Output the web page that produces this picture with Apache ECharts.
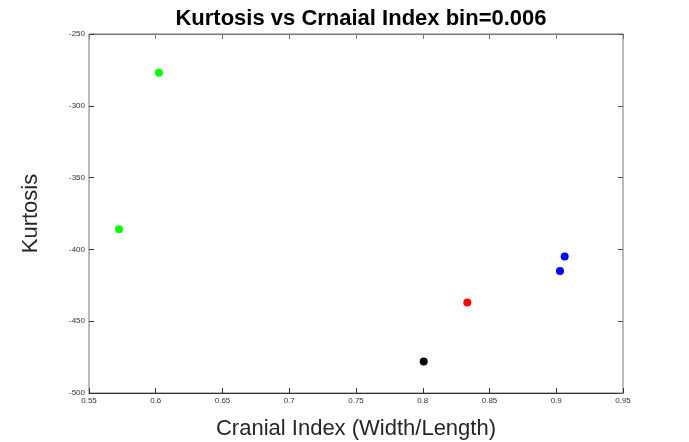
<!DOCTYPE html>
<html><head><meta charset="utf-8">
<script src="https://cdn.jsdelivr.net/npm/echarts@6/dist/echarts.min.js"></script>
<style>html,body{margin:0;padding:0;background:#fff}#c{width:689px;height:442px}</style>
</head><body><div id="c"></div>
<script>
const xTicks = [0.55,0.6,0.65,0.7,0.75,0.8,0.85,0.9,0.95];
const yTicks = [-500,-450,-400,-350,-300,-250];
const greenPts = [[0.6024,-277],[0.5725,-386]];
const redPts = [[0.8334,-437]];
const blackPts = [[0.8007,-478]];
const bluePts = [[0.9063,-405],[0.9028,-415]];

const chart = echarts.init(document.getElementById('c'));
const lblFont = {fontFamily:'Liberation Sans, Arial', fontSize:8, color:'#333'};
function sc(data,color){return {type:'scatter',data:data,symbol:'circle',symbolSize:8,itemStyle:{color:color,opacity:1},xAxisIndex:0,yAxisIndex:0};}
chart.setOption({
  animation:false,
  title:{text:'Kurtosis vs Crnaial Index bin=0.006',left:356,top:3,textAlign:'center',
    textStyle:{fontFamily:'Liberation Sans, Arial',fontSize:22,fontWeight:'bold',color:'#000'}},
  grid:{left:89,right:66,top:34,bottom:49,outerBoundsMode:'none',containLabel:false,show:true,borderColor:'#777',borderWidth:1,backgroundColor:'#fff'},
  xAxis:[{type:'value',min:0.55,max:0.95,interval:0.05,
    name:'Cranial Index (Width/Length)',nameLocation:'middle',nameGap:25,
    nameTextStyle:{fontFamily:'Liberation Sans, Arial',fontSize:22,color:'#262626'},
    axisLine:{show:true,onZero:false,lineStyle:{color:'#333'}},
    axisTick:{inside:true,length:5,lineStyle:{color:'#333'}},
    axisLabel:Object.assign({margin:4,formatter:v=>String(+v.toFixed(2))},lblFont),
    splitLine:{show:false}},
   {type:'value',position:'top',min:0.55,max:0.95,interval:0.05,
    axisLine:{show:true,lineStyle:{color:'#777'}},axisTick:{inside:true,length:5,lineStyle:{color:'#777'}},
    axisLabel:{show:false},splitLine:{show:false}}],
  yAxis:[{type:'value',min:-500,max:-250,interval:50,
    name:'Kurtosis',nameLocation:'middle',nameGap:47,nameRotate:90,
    nameTextStyle:{fontFamily:'Liberation Sans, Arial',fontSize:22,color:'#262626'},
    axisLine:{show:true,onZero:false,lineStyle:{color:'#bbb'}},
    axisTick:{inside:true,length:5,lineStyle:{color:'#333'}},
    axisLabel:Object.assign({margin:4},lblFont),
    splitLine:{show:false}},
   {type:'value',position:'right',min:-500,max:-250,interval:50,
    axisLine:{show:true,lineStyle:{color:'#bbb'}},axisTick:{inside:true,length:5,lineStyle:{color:'#555'}},
    axisLabel:{show:false},splitLine:{show:false}}],
  series:[sc(greenPts,'#00ff00'),sc(redPts,'#ff0000'),sc(blackPts,'#000000'),sc(bluePts,'#0000ff')]
});
</script></body></html>
